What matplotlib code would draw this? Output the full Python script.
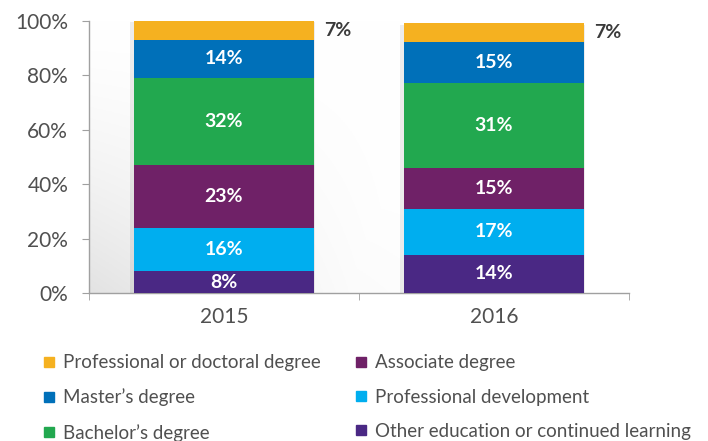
import matplotlib.pyplot as plt
import numpy as np
from matplotlib.lines import Line2D

years = ["2015", "2016"]
categories = ["Professional or doctoral degree", "Master\u2019s degree", "Bachelor\u2019s degree",
              "Associate degree", "Professional development", "Other education or continued learning"]
# values top-to-bottom in the stack, percent
prof_doctoral = [7, 7]
masters = [14, 15]
bachelors = [32, 31]
associate = [23, 15]
prof_dev = [16, 17]
other_ed = [8, 14]

colors = ["#F5B120", "#0070B9", "#22A84F", "#6F2167", "#00AEEF", "#4A2884"]

plt.rcParams['font.family'] = ['Lato', 'DejaVu Sans']

fig = plt.figure(figsize=(7.08, 4.41), dpi=100)
ax = fig.add_axes([0.1257, 0.3356, 0.7627, 0.6175])

# faint grey shading, darkest bottom-left, fading up and to the right
gx = np.linspace(0, 1, 300)
gy = np.linspace(0, 1, 150)
X, Y = np.meshgrid(gx, gy)
shade = np.clip(1 - X / 0.6, 0, 1) ** 1.2 * np.clip(Y, 0, 1) ** 1.5
shade = np.maximum(shade, 0.35 * np.clip(Y - 0.55, 0, 1) / 0.45 * np.clip(1 - X / 0.8, 0, 1))
lvl = 1 - 0.11 * shade
img = np.dstack([lvl, lvl, lvl])
ax.imshow(img, extent=[-0.5, 1.5, 0, 100], aspect='auto', zorder=0, origin='upper')

x = np.arange(len(years))
stack = [other_ed, prof_dev, associate, bachelors, masters, prof_doctoral]
stack_colors = colors[::-1]
bottom = np.zeros(len(years))
for vals, c in zip(stack, stack_colors):
    vals = np.array(vals, dtype=float)
    # soft shadow
    ax.bar(x - 0.006, vals, width=0.685, bottom=bottom - 0.5, color="#000000", alpha=0.07, zorder=2)
    ax.bar(x, vals, width=0.67, bottom=bottom, color=c, zorder=3)
    for i, v in enumerate(vals):
        if c != colors[0]:
            ax.text(x[i], bottom[i] + v / 2, f"{int(v)}%", ha='center', va='center',
                    color='white', fontsize=14, fontweight='bold', zorder=4)
        else:
            ax.text(x[i] + 0.37, bottom[i] + v / 2, f"{int(v)}%", ha='left', va='center',
                    color='#3a3a3a', fontsize=14, fontweight='bold', zorder=4)
    bottom += vals

ax.set_xlim(-0.5, 1.5)
ax.set_ylim(0, 100)
ax.set_yticks(np.arange(0, 101, 20))
ax.set_yticklabels([f"{v}%" for v in range(0, 101, 20)])
ax.set_xticks(x)
ax.set_xticklabels(years)
ax.set_xticks([-0.5, 0.5, 1.5], minor=True)
ax.tick_params(axis='x', which='major', length=0, pad=10, labelcolor='#505050', labelsize=15)
ax.tick_params(axis='x', which='minor', length=5, color='#a0a0a0', direction='out')
ax.tick_params(axis='y', length=5, color='#a0a0a0', labelcolor='#505050', pad=10, labelsize=15)

for s in ['top', 'right']:
    ax.spines[s].set_visible(False)
for s in ['left', 'bottom']:
    ax.spines[s].set_color('#a0a0a0')
    ax.spines[s].set_linewidth(1.0)

handles = [Line2D([0], [0], marker='s', linestyle='', markersize=7,
                  markerfacecolor=c, markeredgecolor=c) for c in colors]
leg = fig.legend(handles, categories, ncol=2, loc='upper left', bbox_to_anchor=(0.05, 0.214),
                 frameon=False, prop={'size': 13.5},
                 handletextpad=0.45, columnspacing=1.85,
                 labelspacing=0.93, handlelength=0.6, borderaxespad=0)
for t in leg.get_texts():
    t.set_color('#505050')

fig.savefig("out.png", dpi=100)
